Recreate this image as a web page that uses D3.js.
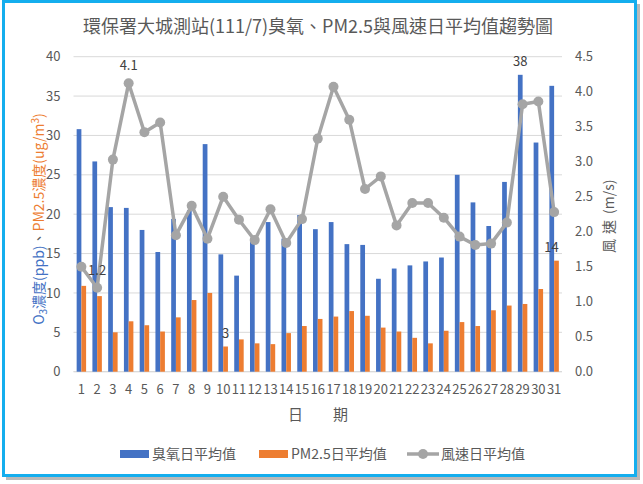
<!DOCTYPE html>
<html><head><meta charset="utf-8">
<script src="https://cdn.jsdelivr.net/npm/d3@7"></script>
<style>body{margin:0;background:#fff}svg{display:block}text{font-family:"Noto Sans CJK TC","Noto Sans",sans-serif}</style>
</head><body>
<script>
const days = d3.range(1, 32).map(String);
const o3 = [30.8,26.7,20.9,20.8,18.0,15.2,19.4,20.5,28.9,14.9,12.2,16.8,19.0,16.9,19.9,18.1,19.0,16.2,16.1,11.8,13.1,13.5,14.0,14.5,25.0,21.5,18.5,24.1,37.7,29.1,36.3];
const pm25 = [10.9,9.6,5.0,6.4,5.9,5.1,6.9,9.1,10.0,3.2,4.1,3.6,3.5,4.9,5.8,6.7,7.0,7.7,7.1,5.6,5.1,4.3,3.6,5.2,6.3,5.8,7.8,8.4,8.6,10.5,14.1];
const wind = [1.5,1.2,3.03,4.12,3.42,3.56,1.95,2.37,1.9,2.5,2.17,1.88,2.32,1.84,2.18,3.33,4.07,3.6,2.61,2.79,2.09,2.41,2.41,2.2,1.93,1.81,1.83,2.13,3.82,3.86,2.28];
const leftTicks = [0,5,10,15,20,25,30,35,40];
const rightTicks = [0,0.5,1,1.5,2,2.5,3,3.5,4,4.5];
const labelsO3 = {29: "38"};
const labelsPm = {10: "3", 31: "14"};
const labelsWind = {2: "1.2", 4: "4.1"};

const W = 643, H = 484;
const svg = d3.select("body").append("svg").attr("width", W).attr("height", H);
// frame shadow & border
svg.append("rect").attr("x", 6).attr("y", 4).attr("width", 634).attr("height", 476).attr("fill", "#8a8a8a").attr("opacity", 0.6);
svg.append("rect").attr("x", 3.5).attr("y", 1.5).attr("width", 632).attr("height", 474).attr("fill", "#fff").attr("stroke", "#14AEEE").attr("stroke-width", 3);

const L = 73.5, R = 562, T = 56.7, B = 371.7;
const x = d3.scaleBand().domain(days).range([L, R]).padding(0);
const y = d3.scaleLinear().domain([0, 40]).range([B, T]);
const y2 = d3.scaleLinear().domain([0, 4.5]).range([B, T]);
const gw = x.bandwidth() * 0.6, bw = gw / 2;
const grey = "#595959";

// gridlines
svg.append("g").selectAll("line").data(leftTicks).join("line")
  .attr("x1", L).attr("x2", R).attr("y1", d => y(d)).attr("y2", d => y(d))
  .attr("stroke", "#D9D9D9").attr("stroke-width", 1);

// axes
const axL = svg.append("g").attr("transform", `translate(${L},0)`)
  .call(d3.axisLeft(y).tickValues(leftTicks).tickSize(0).tickPadding(13));
const axR = svg.append("g").attr("transform", `translate(${R},0)`)
  .call(d3.axisRight(y2).tickValues(rightTicks).tickFormat(d3.format(".1f")).tickSize(0).tickPadding(13));
const axB = svg.append("g").attr("transform", `translate(0,${B})`)
  .call(d3.axisBottom(x).tickSize(0).tickPadding(13));
[axL, axR, axB].forEach(a => {
  a.select(".domain").remove();
  a.selectAll("text").attr("fill", grey).style("font-size", "13px");
});
svg.append("line").attr("x1", L).attr("x2", R).attr("y1", B).attr("y2", B).attr("stroke", "#D9D9D9");

// bars
const cx = d => x(d) + x.bandwidth() / 2;
svg.append("g").selectAll("rect").data(days).join("rect")
  .attr("x", (d) => cx(d) - bw).attr("width", bw)
  .attr("y", (d, i) => y(o3[i])).attr("height", (d, i) => B - y(o3[i]))
  .attr("fill", "#4472C4");
svg.append("g").selectAll("rect").data(days).join("rect")
  .attr("x", (d) => cx(d)).attr("width", bw)
  .attr("y", (d, i) => y(pm25[i])).attr("height", (d, i) => B - y(pm25[i]))
  .attr("fill", "#ED7D31");

// wind line
const line = d3.line().x((d, i) => cx(days[i])).y(d => y2(d));
svg.append("path").datum(wind).attr("d", line).attr("fill", "none")
  .attr("stroke", "#A5A5A5").attr("stroke-width", 3.5).attr("stroke-linejoin", "round");
svg.append("g").selectAll("circle").data(wind).join("circle")
  .attr("cx", (d, i) => cx(days[i])).attr("cy", d => y2(d)).attr("r", 5)
  .attr("fill", "#A5A5A5");

// data labels
const lab = svg.append("g").style("font-size", "13px").attr("fill", "#404040").attr("text-anchor", "middle");
Object.entries(labelsO3).forEach(([k, t]) => {
  lab.append("text").attr("x", cx(k) - bw / 2).attr("y", y(o3[k - 1]) - 9).text(t);
});
Object.entries(labelsPm).forEach(([k, t]) => {
  lab.append("text").attr("x", cx(k) + bw / 2 - (k == 31 ? 5 : 0)).attr("y", y(pm25[k - 1]) - 9).text(t);
});
Object.entries(labelsWind).forEach(([k, t]) => {
  lab.append("text").attr("x", cx(k)).attr("y", y2(wind[k - 1]) - 13).text(t);
});

// title
svg.append("text").attr("x", 318).attr("y", 33).attr("text-anchor", "middle")
  .attr("fill", grey).style("font-size", "18px")
  .text("環保署大城測站(111/7)臭氧、PM2.5與風速日平均值趨勢圖");

// x title
svg.append("text").attr("x", 318).attr("y", 420).attr("text-anchor", "middle")
  .attr("fill", grey).style("font-size", "15px").attr("xml:space", "preserve").text("日　　期");

// left title
const lt = svg.append("text").attr("transform", "translate(44,219) rotate(-90)")
  .attr("text-anchor", "middle").style("font-size", "14px");
lt.append("tspan").attr("fill", "#4472C4").text("O");
lt.append("tspan").attr("fill", "#4472C4").attr("dy", 3).style("font-size", "10px").text("3");
lt.append("tspan").attr("fill", "#4472C4").attr("dy", -3).text("濃度(ppb)");
lt.append("tspan").attr("fill", grey).text("、");
lt.append("tspan").attr("fill", "#ED7D31").text("PM2.5濃度(ug/m");
lt.append("tspan").attr("fill", "#ED7D31").attr("dy", -5).style("font-size", "10px").text("3");
lt.append("tspan").attr("fill", "#ED7D31").attr("dy", 5).text(")");

// right title
const rt = svg.append("g").attr("transform", "translate(614,215) rotate(-90)")
  .attr("fill", grey).style("font-size", "14px");
rt.append("text").attr("x", -38).text("風");
rt.append("text").attr("x", -19).text("速");
rt.append("text").attr("x", 1).text("(m/s)");

// legend
const lg = svg.append("g").style("font-size", "14px").attr("fill", grey);
const items = [
  {t: "臭氧日平均值", c: "#4472C4", x: 120, type: "bar"},
  {t: "PM2.5日平均值", c: "#ED7D31", x: 259, type: "bar"},
  {t: "風速日平均值", c: "#A5A5A5", x: 407, type: "line"}
];
items.forEach(it => {
  if (it.type === "bar") {
    lg.append("rect").attr("x", it.x).attr("y", 450).attr("width", 29).attr("height", 8).attr("fill", it.c);
  } else {
    lg.append("line").attr("x1", it.x).attr("x2", it.x + 32).attr("y1", 454).attr("y2", 454).attr("stroke", it.c).attr("stroke-width", 3.5);
    lg.append("circle").attr("cx", it.x + 16).attr("cy", 454).attr("r", 5).attr("fill", it.c);
  }
  lg.append("text").attr("x", it.x + (it.type === "bar" ? 32 : 34)).attr("y", 459).text(it.t);
});
</script>
</body></html>
